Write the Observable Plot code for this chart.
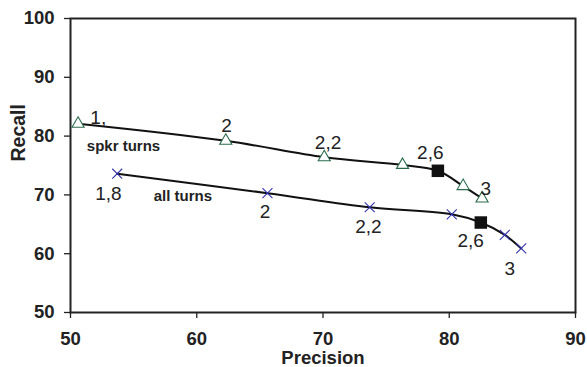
<!DOCTYPE html>
<html>
<head>
<meta charset="utf-8">
<script src="https://cdn.jsdelivr.net/npm/d3@7"></script>
<script src="https://cdn.jsdelivr.net/npm/@observablehq/plot@0.6"></script>
<style>
  html, body { margin: 0; padding: 0; background: #fff; }
  svg { display: block; }
</style>
</head>
<body>
<div id="chart"></div>
<script>
// speaker-turn series (triangles)
const spkrPrecision = [50.6, 62.3, 70.1, 76.3, 79.1, 81.1, 82.6];
const spkrRecall    = [82.1, 79.2, 76.4, 75.1, 74.1, 71.5, 69.4];
// all-turn series (crosses)
const allPrecision  = [53.7, 65.6, 73.7, 80.2, 82.5, 84.4, 85.7];
const allRecall     = [73.6, 70.3, 67.9, 66.7, 65.3, 63.2, 60.9];
// highlighted (threshold 2,6) points
const highlightPrecision = [79.1, 82.5];
const highlightRecall    = [74.1, 65.3];
// threshold labels
const spkrLabelText = ["1,", "2", "2,2", "2,6", "3"];
const spkrLabelX    = [52.2, 62.35, 70.4, 78.5, 82.9];
const spkrLabelY    = [83.1, 81.7, 78.9, 77.1, 71.0];
const allLabelText  = ["1,8", "2", "2,2", "2,6", "3"];
const allLabelX     = [53.0, 65.4, 73.6, 81.7, 84.8];
const allLabelY     = [70.1, 67.1, 64.5, 62.2, 57.4];
// series names
const seriesName = ["spkr turns", "all turns"];
const seriesNameX = [54.2, 58.9];
const seriesNameY = [78.2, 69.7];
// axes
const xTicks = [50, 60, 70, 80, 90];
const yTicks = [50, 60, 70, 80, 90, 100];
const xTitle = "Precision";
const yTitle = "Recall";

const spkr = spkrPrecision.map((p, i) => ({p, r: spkrRecall[i], hl: highlightPrecision.includes(p)}));
const all = allPrecision.map((p, i) => ({p, r: allRecall[i], hl: highlightPrecision.includes(p)}));
const hl = highlightPrecision.map((p, i) => ({p, r: highlightRecall[i]}));
const spkrLabels = spkrLabelText.map((t, i) => ({t, p: spkrLabelX[i], r: spkrLabelY[i]}));
const allLabels = allLabelText.map((t, i) => ({t, p: allLabelX[i], r: allLabelY[i]}));
const names = seriesName.map((t, i) => ({t, p: seriesNameX[i], r: seriesNameY[i]}));

const font = "'Liberation Sans', Arial, sans-serif";
const ink = "#222";

const chart = Plot.plot({
  width: 587,
  height: 367,
  marginLeft: 70,
  marginRight: 12,
  marginTop: 18,
  marginBottom: 55,
  style: {fontFamily: font, background: "#fff"},
  x: {domain: [50, 90]},
  y: {domain: [50, 100]},
  marks: [
    Plot.frame({stroke: ink, strokeWidth: 2}),
    Plot.axisX({ticks: xTicks, tickSize: 6, tickPadding: 13.5, label: null, stroke: ink, fill: ink, strokeWidth: 1.3, fontSize: 18.5, fontWeight: "bold"}),
    Plot.axisY({ticks: yTicks, tickSize: 6, tickPadding: 10, label: null, stroke: ink, fill: ink, strokeWidth: 1.3, fontSize: 18.5, fontWeight: "bold"}),
    Plot.text([xTitle], {frameAnchor: "bottom", dy: 38.5, lineAnchor: "top", fontSize: 18.5, fontWeight: "bold", fill: ink}),
    Plot.text([yTitle], {frameAnchor: "left", dx: -52, dy: -4, rotate: -90, lineAnchor: "middle", fontSize: 19.5, fontWeight: "bold", fill: ink}),
    Plot.line(spkr, {x: "p", y: "r", stroke: "#111", strokeWidth: 2, curve: "catmull-rom"}),
    Plot.line(all, {x: "p", y: "r", stroke: "#111", strokeWidth: 2, curve: "catmull-rom"}),
    Plot.dot(spkr.filter(d => !d.hl), {x: "p", y: "r", symbol: "triangle", r: 4.5, stroke: "#2a6b4c", fill: "#fff", strokeWidth: 1.1}),
    Plot.dot(all.filter(d => !d.hl), {x: "p", y: "r", symbol: "times", r: 4.6, stroke: "#3434b0", strokeWidth: 1.1}),
    Plot.dot(hl, {x: "p", y: "r", symbol: "square", r: 7.05, fill: "#111", stroke: "none"}),
    Plot.text(spkrLabels, {x: "p", y: "r", text: "t", fontSize: 19, fill: ink, lineAnchor: "middle"}),
    Plot.text(allLabels, {x: "p", y: "r", text: "t", fontSize: 19, fill: ink, lineAnchor: "middle"}),
    Plot.text(names, {x: "p", y: "r", text: "t", fontSize: 15, fontWeight: "bold", fill: ink, lineAnchor: "middle"})
  ]
});
// make axis tick labels bold
d3.select(chart).selectAll("g").filter(function () {
  const a = this.getAttribute("aria-label") || "";
  return a.includes("axis");
}).each(function () {
  d3.select(this).selectAll("text")
    .attr("font-weight", "bold")
    .style("font-weight", "bold")
    .style("font-size", "18.5px")
    .attr("stroke", "none");
});
document.getElementById("chart").appendChild(chart);
</script>
</body>
</html>
